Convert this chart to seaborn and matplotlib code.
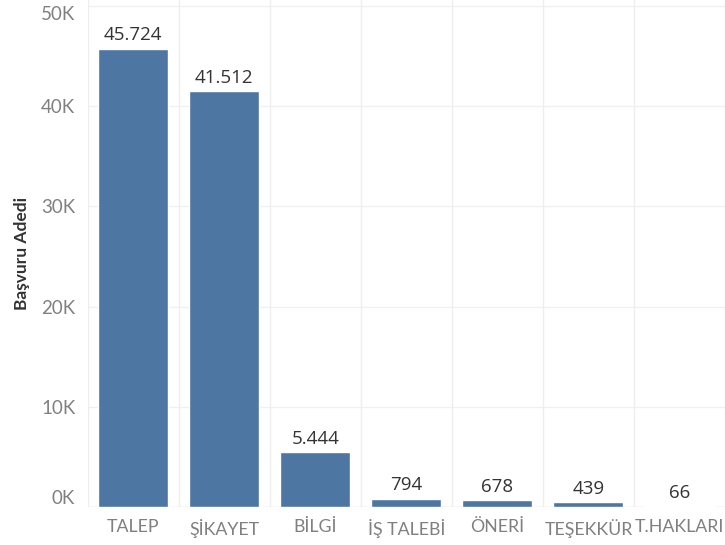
import pandas as pd
import matplotlib.pyplot as plt
import seaborn as sns
from matplotlib.ticker import FuncFormatter, MultipleLocator

categories = ["TALEP", "ŞİKAYET", "BİLGİ", "İŞ TALEBİ", "ÖNERİ", "TEŞEKKÜR", "T.HAKLARI"]
counts = [45724, 41512, 5444, 794, 678, 439, 66]
value_labels = ["45.724", "41.512", "5.444", "794", "678", "439", "66"]

df = pd.DataFrame({"Kategori": categories, "Adet": counts})

sns.set_style("white")
plt.rcParams["font.family"] = ["Lato", "DejaVu Sans"]

fig = plt.figure(figsize=(7.25, 5.45), dpi=100)
ax = fig.add_axes([0.121, 0.07, 0.879, 0.93])

sns.barplot(data=df, x="Kategori", y="Adet", color="#4e76a3", width=0.77,
            saturation=1, ax=ax)

ax.set_ylim(0, 50600)
ax.set_xlim(-0.5, len(categories) - 0.5)
ax.yaxis.set_major_locator(MultipleLocator(10000))
ax.yaxis.set_major_formatter(FuncFormatter(lambda v, p: f"{int(v / 1000)}K"))

# light grid: horizontal lines and category separators
for yv in range(10000, 51000, 10000):
    ax.axhline(yv, color="#f0f0f0", lw=1, zorder=0)
for i in range(len(categories) + 1):
    ax.axvline(i - 0.5, color="#eeeeee", lw=1, zorder=0)
ax.axhline(0, color="#dddddd", lw=1, zorder=0)

for i, (v, lab) in enumerate(zip(counts, value_labels)):
    ax.text(i, v + 450, lab, ha="center", va="bottom", fontsize=13.5,
            color="#333333", family=["Open Sans", "DejaVu Sans"])

for s in ax.spines.values():
    s.set_visible(False)

ax.tick_params(axis="y", length=0, labelsize=13.5, labelcolor="#808080", pad=9)
ax.tick_params(axis="x", length=0, labelsize=12.8, labelcolor="#808080", pad=9)

# keep the end labels inside the axes, like the original
fig.canvas.draw()
for t in ax.get_yticklabels():
    if t.get_text() == "0K":
        t.set_va("bottom")
    elif t.get_text() == "50K":
        t.set_va("top")

ax.set_xlabel("")
ax.set_ylabel("Başvuru Adedi", fontsize=12.5, fontweight="bold", color="#333333",
              labelpad=8)

fig.savefig("out.png", dpi=100)
